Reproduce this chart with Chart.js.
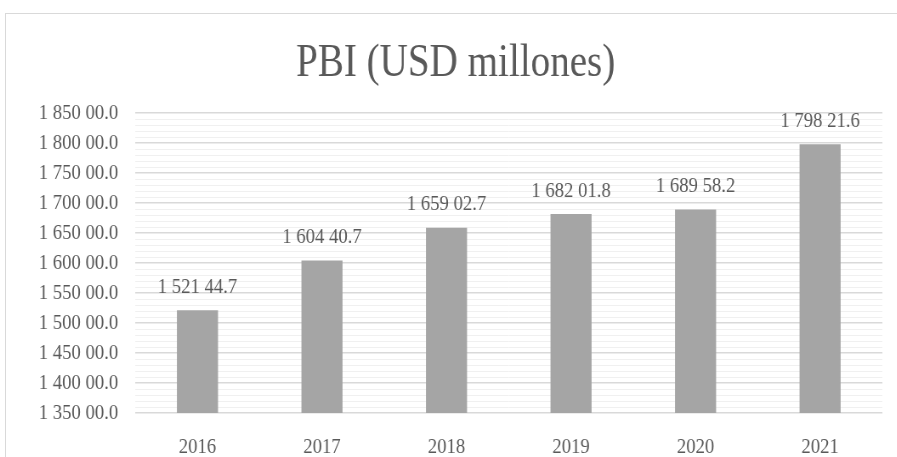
<!DOCTYPE html>
<html>
<head>
<meta charset="utf-8">
<title>PBI (USD millones)</title>
<script src="https://cdn.jsdelivr.net/npm/chart.js@4"></script>
<style>
    html, body { margin: 0; padding: 0; background: #fff; overflow: hidden; }
    body { width: 897px; height: 457px; position: relative; }
    .frame { position: absolute; left: 5px; top: 13px; width: 900px; height: 460px;
             border-left: 1px solid #d9d9d9; border-top: 1px solid #d9d9d9; }
    /* text in this chart is set slightly condensed */
    .squeeze { position: absolute; left: 0; top: 0; transform: scaleX(0.85); transform-origin: 0 0; }
</style>
</head>
<body>
<div class="frame"><div class="squeeze"><canvas id="chartPbi" width="1048" height="443"></canvas></div></div>
<script>
// ============================================================
// PBI anual - barras en USD millones
// ============================================================

var years = ['2016', '2017', '2018', '2019', '2020', '2021'];
var pbi = [152144.7, 160440.7, 165902.7, 168201.8, 168958.2, 179821.6];

var yMin = 135000;
var yMax = 185000;
var majorStep = 5000;
var minorStep = 1000;

var TEXT = '#595959';
var FONT = "'Liberation Serif', 'Times New Roman', serif";

// "1 521 44.7": last two integer digits kept apart, the rest grouped by thousands
function fmt(v) {
    var parts = v.toFixed(1).split('.');
    var intPart = parts[0];
    var head = intPart.slice(0, -2).replace(/\B(?=(\d{3})+(?!\d))/g, ' ');
    return head + ' ' + intPart.slice(-2) + '.' + parts[1];
}

var valueLabels = {
    id: 'valueLabels',
    afterDatasetsDraw: function(chart) {
        var ctx = chart.ctx;
        var meta = chart.getDatasetMeta(0);
        ctx.save();
        ctx.font = '22px ' + FONT;
        ctx.fillStyle = TEXT;
        ctx.textAlign = 'center';
        ctx.textBaseline = 'middle';
        meta.data.forEach(function(bar, i) {
            ctx.fillText(fmt(chart.data.datasets[0].data[i]), bar.x, bar.y - 23);
        });
        ctx.restore();
    }
};

var canvas = document.getElementById('chartPbi');
var chart = new Chart(canvas, {
    type: 'bar',
    data: {
        labels: years,
        datasets: [{
            data: pbi,
            backgroundColor: '#a5a5a5',
            borderWidth: 0,
            categoryPercentage: 1,
            barPercentage: 0.33
        }]
    },
    options: {
        responsive: false,
        animation: false,
        layout: { padding: { left: 27, right: 17, top: 0, bottom: 0 } },
        scales: {
            x: {
                grid: { display: false },
                border: { display: false },
                ticks: { color: TEXT, font: { family: FONT, size: 22 }, padding: 13 },
                afterFit: function(scale) { scale.height = 44; }
            },
            y: {
                min: yMin,
                max: yMax,
                border: { display: false },
                grid: {
                    drawTicks: false,
                    color: function(c) { return c.tick && c.tick.value % majorStep === 0 ? '#d9d9d9' : '#f0f0f0'; },
                    lineWidth: function(c) { return c.tick && c.tick.value % majorStep === 0 ? 1.5 : 1; }
                },
                ticks: {
                    stepSize: minorStep,
                    autoSkip: false,
                    padding: 20,
                    color: TEXT,
                    font: { family: FONT, size: 22 },
                    callback: function(v) { return v % majorStep === 0 ? fmt(v) : ''; }
                },
                afterFit: function(scale) { scale.width = 125; }
            }
        },
        plugins: {
            legend: { display: false },
            tooltip: { enabled: false },
            title: {
                display: true,
                text: 'PBI (USD millones)',
                color: TEXT,
                font: { family: FONT, size: 46, weight: 'normal' },
                padding: { top: 22, bottom: 22 }
            }
        }
    },
    plugins: [valueLabels]
});
</script>
</body>
</html>
